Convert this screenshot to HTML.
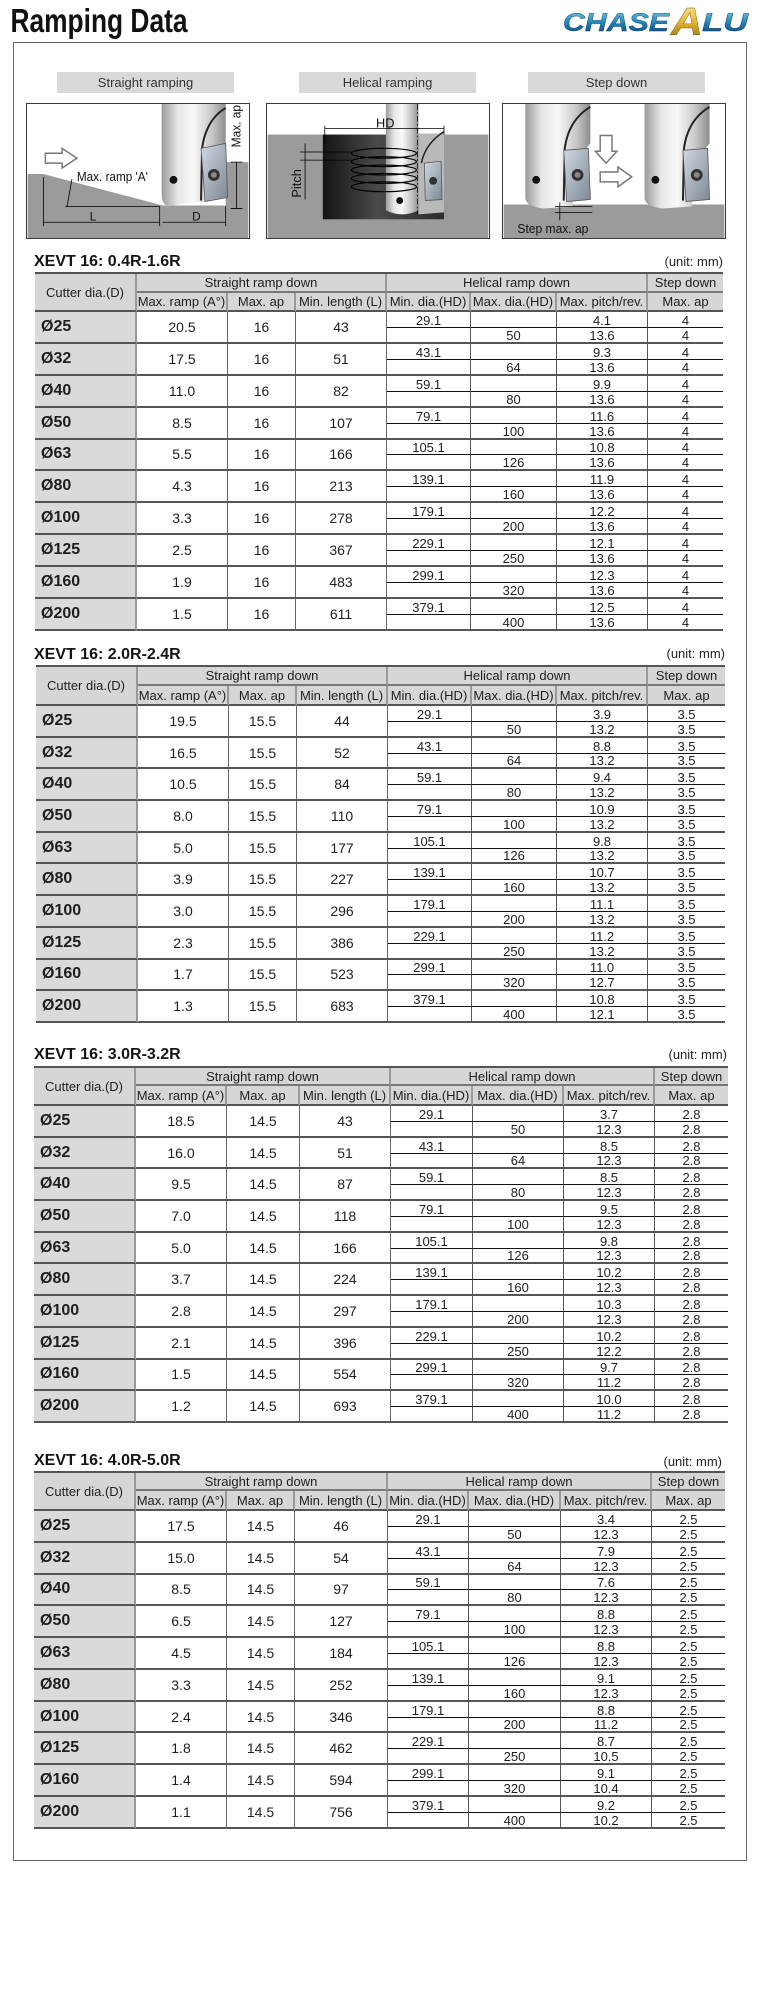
<!DOCTYPE html>
<html>
<head>
<meta charset="utf-8">
<style>
html,body{margin:0;padding:0}
body{width:775px;height:2000px;background:#fff;position:relative;overflow:hidden;font-family:"Liberation Sans",Arial,sans-serif;color:#1e1e1e}
.frame{position:absolute;left:13px;top:42px;width:734px;height:1819px;border:1.5px solid #666;box-sizing:border-box}
.cap{position:absolute;top:72px;height:21px;background:#d9d9d9;font-size:13px;line-height:21px;text-align:center;color:#333}
.img{position:absolute;top:103px;border:1px solid #3a3a3a;box-sizing:border-box}
.ttl{position:absolute;left:34px;font-size:16px;font-weight:bold;line-height:16px;white-space:nowrap;color:#151515}
.unit{position:absolute;font-size:13px;line-height:13px;white-space:nowrap;color:#222}
.t{position:absolute;display:grid;border-top:2px solid #555}
.t>div{box-sizing:border-box;display:flex;align-items:center;justify-content:center;white-space:nowrap}
.t>.hc{grid-row:span 2;background:#d6d6d6;font-size:13px;border-right:2px solid #999;border-bottom:2px solid #555}
.t>.hg{grid-column:span 3;background:#d6d6d6;font-size:13px;border-right:2px solid #999;border-bottom:2px solid #777}
.t>.hs{background:#d6d6d6;font-size:13px;border-bottom:2px solid #777}
.t>.h2{background:#d6d6d6;font-size:13px;border-right:2px solid #999;border-bottom:2px solid #555}
.t>.d{grid-row:span 2;background:#dadada;font-size:16px;font-weight:bold;justify-content:flex-start;padding-left:6px;border-right:2px solid #999;border-bottom:2px solid #555}
.t>.s{grid-row:span 2;font-size:14px;border-right:1px solid #666;border-bottom:2px solid #555}
.t>.a{font-size:13px;align-items:flex-end;line-height:12px;border-right:1px solid #555;border-bottom:1px solid #111}
.t>.b{font-size:13px;align-items:flex-end;line-height:12px;border-right:1px solid #555;border-bottom:2px solid #555}
.t>.l{border-right:none}
</style>
</head>
<body>

<svg style="position:absolute;left:0;top:0" width="300" height="42" viewBox="0 0 300 42">
<text x="10.5" y="32" font-family="Liberation Sans, Arial, sans-serif" font-size="33" font-weight="bold" fill="#111" textLength="177" lengthAdjust="spacingAndGlyphs">Ramping Data</text>
</svg>

<svg style="position:absolute;left:555px;top:0" width="200" height="42" viewBox="0 0 200 42">
<defs>
<linearGradient id="lb" x1="0" y1="0" x2="0" y2="1"><stop offset="0" stop-color="#6fd0ea"/><stop offset=".5" stop-color="#1f84b8"/><stop offset="1" stop-color="#0b3a72"/></linearGradient>
<linearGradient id="lg" x1="0" y1="0" x2="0" y2="1"><stop offset="0" stop-color="#fff3a8"/><stop offset=".5" stop-color="#e2b42e"/><stop offset="1" stop-color="#8a6410"/></linearGradient>
</defs>
<g font-family="Liberation Sans, Arial, sans-serif" font-weight="bold" font-style="italic">
<text x="8" y="31" font-size="25" fill="url(#lb)" stroke="#0b3a72" stroke-width=".4" textLength="106" lengthAdjust="spacingAndGlyphs">CHASE</text>
<text x="116" y="35" font-size="39" fill="url(#lg)" stroke="#7a5a10" stroke-width=".4" textLength="32" lengthAdjust="spacingAndGlyphs">A</text>
<text x="147" y="31" font-size="25" fill="url(#lb)" stroke="#0b3a72" stroke-width=".4" textLength="46" lengthAdjust="spacingAndGlyphs">LU</text>
</g>
</svg>

<div class="frame"></div>

<div class="cap" style="left:57px;width:177px">Straight ramping</div>
<div class="cap" style="left:299px;width:177px">Helical ramping</div>
<div class="cap" style="left:528px;width:177px">Step down</div>

<svg width="0" height="0" style="position:absolute">
<defs>
<linearGradient id="sv" x1="0" x2="1" y1="0" y2="0"><stop offset="0" stop-color="#9a9a9a"/><stop offset=".25" stop-color="#e6e6e6"/><stop offset=".5" stop-color="#f8f8f8"/><stop offset=".8" stop-color="#c4c4c4"/><stop offset="1" stop-color="#8c8c8c"/></linearGradient>
<linearGradient id="ins" x1="0" y1="0" x2="1" y2="1"><stop offset="0" stop-color="#d2dae2"/><stop offset="1" stop-color="#7b8794"/></linearGradient>
<linearGradient id="blk" x1="0" x2="1" y1="0" y2="0"><stop offset="0" stop-color="#141414"/><stop offset=".45" stop-color="#4a4a4a"/><stop offset="1" stop-color="#2c2c2c"/></linearGradient>
</defs>
</svg>

<!-- Image 1: straight ramping -->
<svg class="img" style="left:26px" width="224" height="136" viewBox="0 0 224 136">
<rect width="224" height="136" fill="#fff"/>
<path d="M0,71 L16,71 L137,103 L201,103 L201,59 L224,59 L224,136 L0,136Z" fill="#9b9b9b"/>
<path d="M136,0 H201 V40 Q188,55 184,75 L182,99 L158,101 L142,104 Q136,101 136,92 Z" fill="url(#sv)"/>
<path d="M201,4 Q181,16 177,45 L176,98" fill="none" stroke="#222" stroke-width="2"/>
<polygon points="176,45 201,40 203,95 180,99" fill="url(#ins)" stroke="#555" stroke-width=".8"/>
<circle cx="189" cy="72" r="6" fill="#333"/><circle cx="189" cy="72" r="3" fill="#888"/>
<circle cx="148" cy="77" r="4" fill="#111"/>
<g stroke="#000" stroke-width=".8" fill="none">
<path d="M16,120 H134 M16,74 V124 M134,104 V124 M201,104 V124 M137,120 H201 M38,104 H134 M40,104 L45,76 M212,59 V106 M206,59 H218 M206,106 H218"/>
</g>
<path d="M18,50 H35 V45 L50,55 L35,65 V60 H18 Z" fill="#fff" stroke="#777" stroke-width="1.5"/>
<g font-family="Liberation Sans, Arial, sans-serif" fill="#111">
<text x="63" y="118" font-size="12">L</text>
<text x="167" y="118" font-size="12">D</text>
<text x="50" y="78" font-size="13" textLength="72" lengthAdjust="spacingAndGlyphs">Max. ramp 'A'</text>
<text transform="translate(216,44) rotate(-90)" font-size="13" textLength="43" lengthAdjust="spacingAndGlyphs">Max. ap</text>
</g>
</svg>

<!-- Image 2: helical ramping -->
<svg class="img" style="left:266px" width="224" height="136" viewBox="0 0 224 136">
<rect width="224" height="136" fill="#fff"/>
<rect y="31" width="224" height="105" fill="#9b9b9b"/>
<rect x="56" y="31" width="123" height="86" fill="url(#blk)"/>
<path d="M120,0 H153 V108 Q137,116 120,108 Z" fill="url(#sv)"/>
<path d="M153,30 H179 V110 L153,112 Z" fill="#b9b9b9"/>
<path d="M179,28 Q160,40 156,60" fill="none" stroke="#222" stroke-width="1.5"/>
<polygon points="159,60 176,58 177,97 160,98" fill="url(#ins)" stroke="#555" stroke-width=".8"/>
<circle cx="168" cy="78" r="4" fill="#333"/>
<circle cx="134" cy="98" r="3.5" fill="#111"/>
<g fill="none" stroke="#000" stroke-width="1.2">
<ellipse cx="118" cy="50" rx="33" ry="5"/>
<ellipse cx="118" cy="58.5" rx="33" ry="5"/>
<ellipse cx="118" cy="67" rx="33" ry="5"/>
<ellipse cx="118" cy="75.5" rx="33" ry="5"/>
<ellipse cx="118" cy="84" rx="33" ry="5"/>
</g>
<path d="M152,0 V112" stroke="#000" stroke-width=".7" stroke-dasharray="6 2 2 2"/>
<g stroke="#000" stroke-width=".8" fill="none">
<path d="M58,25 H179 M58,22 V40 M179,22 V31 M33,48.7 H85 M33,57 H85 M38,40 V97"/>
</g>
<g font-family="Liberation Sans, Arial, sans-serif" fill="#111">
<text x="110" y="24" font-size="13">HD</text>
<text transform="translate(34,95) rotate(-90)" font-size="13">Pitch</text>
</g>
</svg>

<!-- Image 3: step down -->
<svg class="img" style="left:502px" width="224" height="136" viewBox="0 0 224 136">
<rect width="224" height="136" fill="#fff"/>
<rect y="102" width="224" height="34" fill="#9b9b9b"/>
<g id="tl">
<path d="M22,0 H88 V40 Q75,55 72,75 L70,104 L40,106 Q22,104 22,95 Z" fill="url(#sv)"/>
<path d="M88,3 Q66,16 62,45 L61,98" fill="none" stroke="#222" stroke-width="2"/>
<polygon points="61,47 86,45 88,97 64,99" fill="url(#ins)" stroke="#555" stroke-width=".8"/>
<circle cx="75" cy="72" r="6" fill="#333"/><circle cx="75" cy="72" r="3" fill="#888"/>
<circle cx="33" cy="77" r="4" fill="#111"/>
</g>
<g transform="translate(121,0)">
<path d="M22,0 H88 V40 Q75,55 72,75 L70,104 L40,106 Q22,104 22,95 Z" fill="url(#sv)"/>
<path d="M88,3 Q66,16 62,45 L61,98" fill="none" stroke="#222" stroke-width="2"/>
<polygon points="61,47 86,45 88,97 64,99" fill="url(#ins)" stroke="#555" stroke-width=".8"/>
<circle cx="75" cy="72" r="6" fill="#333"/><circle cx="75" cy="72" r="3" fill="#888"/>
<circle cx="33" cy="77" r="4" fill="#111"/>
</g>
<path d="M98,32 H110 V48 H115 L104,60 L93,48 H98 Z" fill="#fff" stroke="#777" stroke-width="1.5"/>
<path d="M98,69 H116 V64 L130,74 L116,84 V79 H98 Z" fill="#fff" stroke="#777" stroke-width="1.5"/>
<g stroke="#000" stroke-width=".8" fill="none"><path d="M57,100 V118 M52,104 H90 M52,110 H90"/></g>
<text x="14" y="131" font-family="Liberation Sans, Arial, sans-serif" font-size="13" fill="#111" textLength="72" lengthAdjust="spacingAndGlyphs">Step max. ap</text>
</svg>

<!-- TABLE 1 -->
<div class="ttl" style="top:253.5px">XEVT 16: 0.4R-1.6R</div>
<div class="unit" style="top:255px;right:52px">(unit: mm)</div>
<div class="t" style="left:35px;top:272px;grid-template-columns:102px 91px 68px 91px 84px 86px 91px 75px;grid-template-rows:19px 19px repeat(20,15.95px)">
<div class="hc">Cutter dia.(D)</div><div class="hg">Straight ramp down</div><div class="hg">Helical ramp down</div><div class="hs">Step down</div>
<div class="h2">Max. ramp (A°)</div><div class="h2">Max. ap</div><div class="h2">Min. length (L)</div><div class="h2">Min. dia.(HD)</div><div class="h2">Max. dia.(HD)</div><div class="h2">Max. pitch/rev.</div><div class="h2 l">Max. ap</div>
<div class="d">Ø25</div><div class="s">20.5</div><div class="s">16</div><div class="s">43</div><div class="a">29.1</div><div class="a"></div><div class="a">4.1</div><div class="a l">4</div><div class="b"></div><div class="b">50</div><div class="b">13.6</div><div class="b l">4</div>
<div class="d">Ø32</div><div class="s">17.5</div><div class="s">16</div><div class="s">51</div><div class="a">43.1</div><div class="a"></div><div class="a">9.3</div><div class="a l">4</div><div class="b"></div><div class="b">64</div><div class="b">13.6</div><div class="b l">4</div>
<div class="d">Ø40</div><div class="s">11.0</div><div class="s">16</div><div class="s">82</div><div class="a">59.1</div><div class="a"></div><div class="a">9.9</div><div class="a l">4</div><div class="b"></div><div class="b">80</div><div class="b">13.6</div><div class="b l">4</div>
<div class="d">Ø50</div><div class="s">8.5</div><div class="s">16</div><div class="s">107</div><div class="a">79.1</div><div class="a"></div><div class="a">11.6</div><div class="a l">4</div><div class="b"></div><div class="b">100</div><div class="b">13.6</div><div class="b l">4</div>
<div class="d">Ø63</div><div class="s">5.5</div><div class="s">16</div><div class="s">166</div><div class="a">105.1</div><div class="a"></div><div class="a">10.8</div><div class="a l">4</div><div class="b"></div><div class="b">126</div><div class="b">13.6</div><div class="b l">4</div>
<div class="d">Ø80</div><div class="s">4.3</div><div class="s">16</div><div class="s">213</div><div class="a">139.1</div><div class="a"></div><div class="a">11.9</div><div class="a l">4</div><div class="b"></div><div class="b">160</div><div class="b">13.6</div><div class="b l">4</div>
<div class="d">Ø100</div><div class="s">3.3</div><div class="s">16</div><div class="s">278</div><div class="a">179.1</div><div class="a"></div><div class="a">12.2</div><div class="a l">4</div><div class="b"></div><div class="b">200</div><div class="b">13.6</div><div class="b l">4</div>
<div class="d">Ø125</div><div class="s">2.5</div><div class="s">16</div><div class="s">367</div><div class="a">229.1</div><div class="a"></div><div class="a">12.1</div><div class="a l">4</div><div class="b"></div><div class="b">250</div><div class="b">13.6</div><div class="b l">4</div>
<div class="d">Ø160</div><div class="s">1.9</div><div class="s">16</div><div class="s">483</div><div class="a">299.1</div><div class="a"></div><div class="a">12.3</div><div class="a l">4</div><div class="b"></div><div class="b">320</div><div class="b">13.6</div><div class="b l">4</div>
<div class="d">Ø200</div><div class="s">1.5</div><div class="s">16</div><div class="s">611</div><div class="a">379.1</div><div class="a"></div><div class="a">12.5</div><div class="a l">4</div><div class="b"></div><div class="b">400</div><div class="b">13.6</div><div class="b l">4</div>
</div>

<!-- TABLE 2 -->
<div class="ttl" style="top:646.5px">XEVT 16: 2.0R-2.4R</div>
<div class="unit" style="top:647px;right:50px">(unit: mm)</div>
<div class="t" style="left:36px;top:665px;grid-template-columns:102px 91px 68px 91px 84px 85px 91px 77px;grid-template-rows:19px 20px repeat(20,15.85px)">
<div class="hc">Cutter dia.(D)</div><div class="hg">Straight ramp down</div><div class="hg">Helical ramp down</div><div class="hs">Step down</div>
<div class="h2">Max. ramp (A°)</div><div class="h2">Max. ap</div><div class="h2">Min. length (L)</div><div class="h2">Min. dia.(HD)</div><div class="h2">Max. dia.(HD)</div><div class="h2">Max. pitch/rev.</div><div class="h2 l">Max. ap</div>
<div class="d">Ø25</div><div class="s">19.5</div><div class="s">15.5</div><div class="s">44</div><div class="a">29.1</div><div class="a"></div><div class="a">3.9</div><div class="a l">3.5</div><div class="b"></div><div class="b">50</div><div class="b">13.2</div><div class="b l">3.5</div>
<div class="d">Ø32</div><div class="s">16.5</div><div class="s">15.5</div><div class="s">52</div><div class="a">43.1</div><div class="a"></div><div class="a">8.8</div><div class="a l">3.5</div><div class="b"></div><div class="b">64</div><div class="b">13.2</div><div class="b l">3.5</div>
<div class="d">Ø40</div><div class="s">10.5</div><div class="s">15.5</div><div class="s">84</div><div class="a">59.1</div><div class="a"></div><div class="a">9.4</div><div class="a l">3.5</div><div class="b"></div><div class="b">80</div><div class="b">13.2</div><div class="b l">3.5</div>
<div class="d">Ø50</div><div class="s">8.0</div><div class="s">15.5</div><div class="s">110</div><div class="a">79.1</div><div class="a"></div><div class="a">10.9</div><div class="a l">3.5</div><div class="b"></div><div class="b">100</div><div class="b">13.2</div><div class="b l">3.5</div>
<div class="d">Ø63</div><div class="s">5.0</div><div class="s">15.5</div><div class="s">177</div><div class="a">105.1</div><div class="a"></div><div class="a">9.8</div><div class="a l">3.5</div><div class="b"></div><div class="b">126</div><div class="b">13.2</div><div class="b l">3.5</div>
<div class="d">Ø80</div><div class="s">3.9</div><div class="s">15.5</div><div class="s">227</div><div class="a">139.1</div><div class="a"></div><div class="a">10.7</div><div class="a l">3.5</div><div class="b"></div><div class="b">160</div><div class="b">13.2</div><div class="b l">3.5</div>
<div class="d">Ø100</div><div class="s">3.0</div><div class="s">15.5</div><div class="s">296</div><div class="a">179.1</div><div class="a"></div><div class="a">11.1</div><div class="a l">3.5</div><div class="b"></div><div class="b">200</div><div class="b">13.2</div><div class="b l">3.5</div>
<div class="d">Ø125</div><div class="s">2.3</div><div class="s">15.5</div><div class="s">386</div><div class="a">229.1</div><div class="a"></div><div class="a">11.2</div><div class="a l">3.5</div><div class="b"></div><div class="b">250</div><div class="b">13.2</div><div class="b l">3.5</div>
<div class="d">Ø160</div><div class="s">1.7</div><div class="s">15.5</div><div class="s">523</div><div class="a">299.1</div><div class="a"></div><div class="a">11.0</div><div class="a l">3.5</div><div class="b"></div><div class="b">320</div><div class="b">12.7</div><div class="b l">3.5</div>
<div class="d">Ø200</div><div class="s">1.3</div><div class="s">15.5</div><div class="s">683</div><div class="a">379.1</div><div class="a"></div><div class="a">10.8</div><div class="a l">3.5</div><div class="b"></div><div class="b">400</div><div class="b">12.1</div><div class="b l">3.5</div>
</div>

<!-- TABLE 3 -->
<div class="ttl" style="top:1046.5px">XEVT 16: 3.0R-3.2R</div>
<div class="unit" style="top:1048px;right:48px">(unit: mm)</div>
<div class="t" style="left:34px;top:1066px;grid-template-columns:102px 91px 73px 91px 82px 91px 91px 73px;grid-template-rows:18px 20px repeat(20,15.85px)">
<div class="hc">Cutter dia.(D)</div><div class="hg">Straight ramp down</div><div class="hg">Helical ramp down</div><div class="hs">Step down</div>
<div class="h2">Max. ramp (A°)</div><div class="h2">Max. ap</div><div class="h2">Min. length (L)</div><div class="h2">Min. dia.(HD)</div><div class="h2">Max. dia.(HD)</div><div class="h2">Max. pitch/rev.</div><div class="h2 l">Max. ap</div>
<div class="d">Ø25</div><div class="s">18.5</div><div class="s">14.5</div><div class="s">43</div><div class="a">29.1</div><div class="a"></div><div class="a">3.7</div><div class="a l">2.8</div><div class="b"></div><div class="b">50</div><div class="b">12.3</div><div class="b l">2.8</div>
<div class="d">Ø32</div><div class="s">16.0</div><div class="s">14.5</div><div class="s">51</div><div class="a">43.1</div><div class="a"></div><div class="a">8.5</div><div class="a l">2.8</div><div class="b"></div><div class="b">64</div><div class="b">12.3</div><div class="b l">2.8</div>
<div class="d">Ø40</div><div class="s">9.5</div><div class="s">14.5</div><div class="s">87</div><div class="a">59.1</div><div class="a"></div><div class="a">8.5</div><div class="a l">2.8</div><div class="b"></div><div class="b">80</div><div class="b">12.3</div><div class="b l">2.8</div>
<div class="d">Ø50</div><div class="s">7.0</div><div class="s">14.5</div><div class="s">118</div><div class="a">79.1</div><div class="a"></div><div class="a">9.5</div><div class="a l">2.8</div><div class="b"></div><div class="b">100</div><div class="b">12.3</div><div class="b l">2.8</div>
<div class="d">Ø63</div><div class="s">5.0</div><div class="s">14.5</div><div class="s">166</div><div class="a">105.1</div><div class="a"></div><div class="a">9.8</div><div class="a l">2.8</div><div class="b"></div><div class="b">126</div><div class="b">12.3</div><div class="b l">2.8</div>
<div class="d">Ø80</div><div class="s">3.7</div><div class="s">14.5</div><div class="s">224</div><div class="a">139.1</div><div class="a"></div><div class="a">10.2</div><div class="a l">2.8</div><div class="b"></div><div class="b">160</div><div class="b">12.3</div><div class="b l">2.8</div>
<div class="d">Ø100</div><div class="s">2.8</div><div class="s">14.5</div><div class="s">297</div><div class="a">179.1</div><div class="a"></div><div class="a">10.3</div><div class="a l">2.8</div><div class="b"></div><div class="b">200</div><div class="b">12.3</div><div class="b l">2.8</div>
<div class="d">Ø125</div><div class="s">2.1</div><div class="s">14.5</div><div class="s">396</div><div class="a">229.1</div><div class="a"></div><div class="a">10.2</div><div class="a l">2.8</div><div class="b"></div><div class="b">250</div><div class="b">12.2</div><div class="b l">2.8</div>
<div class="d">Ø160</div><div class="s">1.5</div><div class="s">14.5</div><div class="s">554</div><div class="a">299.1</div><div class="a"></div><div class="a">9.7</div><div class="a l">2.8</div><div class="b"></div><div class="b">320</div><div class="b">11.2</div><div class="b l">2.8</div>
<div class="d">Ø200</div><div class="s">1.2</div><div class="s">14.5</div><div class="s">693</div><div class="a">379.1</div><div class="a"></div><div class="a">10.0</div><div class="a l">2.8</div><div class="b"></div><div class="b">400</div><div class="b">11.2</div><div class="b l">2.8</div>
</div>

<!-- TABLE 4 -->
<div class="ttl" style="top:1452.5px">XEVT 16: 4.0R-5.0R</div>
<div class="unit" style="top:1455px;right:53px">(unit: mm)</div>
<div class="t" style="left:34px;top:1471px;grid-template-columns:102px 91px 68px 93px 81px 92px 91px 73px;grid-template-rows:18px 20px repeat(20,15.9px)">
<div class="hc">Cutter dia.(D)</div><div class="hg">Straight ramp down</div><div class="hg">Helical ramp down</div><div class="hs">Step down</div>
<div class="h2">Max. ramp (A°)</div><div class="h2">Max. ap</div><div class="h2">Min. length (L)</div><div class="h2">Min. dia.(HD)</div><div class="h2">Max. dia.(HD)</div><div class="h2">Max. pitch/rev.</div><div class="h2 l">Max. ap</div>
<div class="d">Ø25</div><div class="s">17.5</div><div class="s">14.5</div><div class="s">46</div><div class="a">29.1</div><div class="a"></div><div class="a">3.4</div><div class="a l">2.5</div><div class="b"></div><div class="b">50</div><div class="b">12.3</div><div class="b l">2.5</div>
<div class="d">Ø32</div><div class="s">15.0</div><div class="s">14.5</div><div class="s">54</div><div class="a">43.1</div><div class="a"></div><div class="a">7.9</div><div class="a l">2.5</div><div class="b"></div><div class="b">64</div><div class="b">12.3</div><div class="b l">2.5</div>
<div class="d">Ø40</div><div class="s">8.5</div><div class="s">14.5</div><div class="s">97</div><div class="a">59.1</div><div class="a"></div><div class="a">7.6</div><div class="a l">2.5</div><div class="b"></div><div class="b">80</div><div class="b">12.3</div><div class="b l">2.5</div>
<div class="d">Ø50</div><div class="s">6.5</div><div class="s">14.5</div><div class="s">127</div><div class="a">79.1</div><div class="a"></div><div class="a">8.8</div><div class="a l">2.5</div><div class="b"></div><div class="b">100</div><div class="b">12.3</div><div class="b l">2.5</div>
<div class="d">Ø63</div><div class="s">4.5</div><div class="s">14.5</div><div class="s">184</div><div class="a">105.1</div><div class="a"></div><div class="a">8.8</div><div class="a l">2.5</div><div class="b"></div><div class="b">126</div><div class="b">12.3</div><div class="b l">2.5</div>
<div class="d">Ø80</div><div class="s">3.3</div><div class="s">14.5</div><div class="s">252</div><div class="a">139.1</div><div class="a"></div><div class="a">9.1</div><div class="a l">2.5</div><div class="b"></div><div class="b">160</div><div class="b">12.3</div><div class="b l">2.5</div>
<div class="d">Ø100</div><div class="s">2.4</div><div class="s">14.5</div><div class="s">346</div><div class="a">179.1</div><div class="a"></div><div class="a">8.8</div><div class="a l">2.5</div><div class="b"></div><div class="b">200</div><div class="b">11.2</div><div class="b l">2.5</div>
<div class="d">Ø125</div><div class="s">1.8</div><div class="s">14.5</div><div class="s">462</div><div class="a">229.1</div><div class="a"></div><div class="a">8.7</div><div class="a l">2.5</div><div class="b"></div><div class="b">250</div><div class="b">10.5</div><div class="b l">2.5</div>
<div class="d">Ø160</div><div class="s">1.4</div><div class="s">14.5</div><div class="s">594</div><div class="a">299.1</div><div class="a"></div><div class="a">9.1</div><div class="a l">2.5</div><div class="b"></div><div class="b">320</div><div class="b">10.4</div><div class="b l">2.5</div>
<div class="d">Ø200</div><div class="s">1.1</div><div class="s">14.5</div><div class="s">756</div><div class="a">379.1</div><div class="a"></div><div class="a">9.2</div><div class="a l">2.5</div><div class="b"></div><div class="b">400</div><div class="b">10.2</div><div class="b l">2.5</div>
</div>

</body>
</html>
